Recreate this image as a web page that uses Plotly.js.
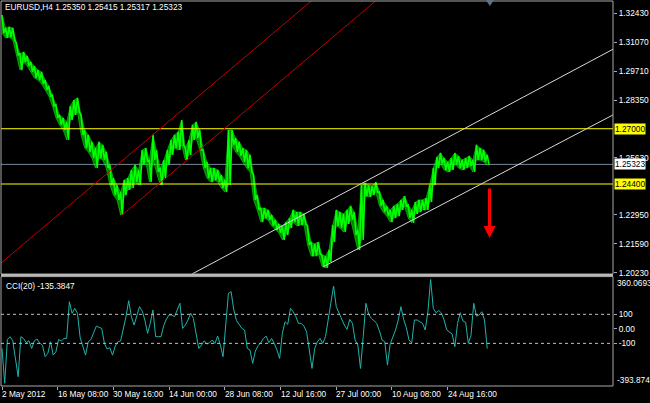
<!DOCTYPE html>
<html><head><meta charset="utf-8">
<script src="https://cdn.plot.ly/plotly-3.0.1.min.js"></script>
<style>html,body{margin:0;padding:0;background:#000;}#chart{width:650px;height:403px;}</style>
</head><body><div id="chart"></div>
<script>
// ---- data ----
const symbolTitle = "EURUSD,H4 1.25350 1.25415 1.25317 1.25323";
const cciTitle = "CCI(20) -135.3847";
const dateLabels = ["2 May 2012","16 May 08:00","30 May 16:00","14 Jun 00:00","28 Jun 08:00","12 Jul 16:00","27 Jul 00:00","10 Aug 08:00","24 Aug 16:00"];
const dateBars = [0,62,124,186,248,310,372,434,496];
const priceStep = 4;   // bars between samples
const priceHighs = [1.3235,1.3174,1.3179,1.3174,1.3103,1.3052,1.3061,1.3042,1.3014,1.2995,
 1.2976,1.2967,1.2929,1.2901,1.2859,1.2812,1.2765,1.2751,1.2732,1.2807,
 1.2835,1.2845,1.2765,1.2694,1.2671,1.2638,1.2609,1.2638,1.2624,1.2591,
 1.2530,1.2468,1.2435,1.2402,1.2459,1.2468,1.2506,1.2530,1.2506,1.2600,
 1.2609,1.2553,1.2671,1.2600,1.2515,1.2553,1.2600,1.2647,1.2671,1.2685,
 1.2741,1.2609,1.2647,1.2718,1.2732,1.2694,1.2600,1.2544,1.2515,1.2515,
 1.2506,1.2482,1.2459,1.2694,1.2694,1.2656,1.2638,1.2609,1.2600,1.2577,
 1.2482,1.2388,1.2327,1.2327,1.2318,1.2294,1.2271,1.2252,1.2243,1.2261,
 1.2280,1.2318,1.2308,1.2308,1.2299,1.2243,1.2167,1.2158,1.2167,1.2106,
 1.2101,1.2130,1.2247,1.2318,1.2308,1.2299,1.2318,1.2337,1.2308,1.2224,
 1.2435,1.2445,1.2435,1.2431,1.2449,1.2402,1.2365,1.2337,1.2318,1.2337,
 1.2346,1.2365,1.2383,1.2341,1.2318,1.2355,1.2365,1.2365,1.2374,1.2435,
 1.2515,1.2567,1.2586,1.2562,1.2544,1.2562,1.2586,1.2572,1.2553,1.2562,
 1.2572,1.2553,1.2624,1.2609,1.2600,1.2577];
const priceLows = [1.3150,1.3127,1.3131,1.3117,1.3047,1.2976,1.3014,1.2995,1.2967,1.2939,
 1.2929,1.2911,1.2882,1.2854,1.2807,1.2751,1.2718,1.2694,1.2647,1.2741,
 1.2765,1.2779,1.2671,1.2609,1.2591,1.2562,1.2515,1.2562,1.2553,1.2515,
 1.2435,1.2388,1.2365,1.2294,1.2388,1.2412,1.2421,1.2449,1.2435,1.2530,
 1.2544,1.2449,1.2553,1.2497,1.2435,1.2468,1.2530,1.2577,1.2609,1.2600,
 1.2624,1.2553,1.2577,1.2647,1.2656,1.2600,1.2515,1.2468,1.2449,1.2459,
 1.2449,1.2421,1.2402,1.2435,1.2624,1.2591,1.2572,1.2544,1.2515,1.2497,
 1.2365,1.2318,1.2261,1.2280,1.2271,1.2243,1.2224,1.2210,1.2177,1.2200,
 1.2233,1.2261,1.2243,1.2247,1.2252,1.2153,1.2101,1.2101,1.2111,1.2054,
 1.2045,1.2073,1.2167,1.2243,1.2233,1.2214,1.2252,1.2271,1.2200,1.2130,
 1.2177,1.2383,1.2379,1.2388,1.2402,1.2337,1.2308,1.2289,1.2261,1.2280,
 1.2289,1.2318,1.2337,1.2280,1.2257,1.2299,1.2308,1.2318,1.2318,1.2355,
 1.2435,1.2515,1.2534,1.2506,1.2497,1.2506,1.2534,1.2515,1.2506,1.2515,
 1.2525,1.2497,1.2553,1.2553,1.2544,1.2530];
const cciStep = 3;
const cciValues = [-135,-375,-73,-54,-82,-192,-330,-54,-66,-96,
 -82,-135,-82,-70,-98,-112,-192,-169,-89,-181,
 -158,-73,-84,-66,-66,187,107,141,107,-61,
 -123,-181,-89,-73,-27,19,10,3,-100,-139,
 -130,-181,-119,-89,-84,-8,84,194,84,26,
 95,153,123,61,-31,38,130,-54,-54,-54,
 22,68,95,95,84,125,176,3,26,61,
 107,72,-20,-135,-112,-82,-105,-96,-77,-100,
 -50,-110,-192,38,245,256,130,56,33,3,
 -8,-135,-146,-238,-153,-116,-96,-66,-50,-96,
 -66,-100,-146,-204,-31,49,31,141,118,84,
 38,38,19,-20,-146,-273,-135,-89,-66,-100,
 -54,72,164,295,153,107,72,26,-4,65,
 38,-77,-112,-273,-54,176,102,72,56,38,
 -13,-77,-89,-250,-105,-59,-8,61,153,65,
 8,-77,-96,61,61,49,38,-8,118,340,
 141,111,127,109,61,-8,-20,-36,-123,38,
 111,54,45,-100,-43,176,88,95,118,61,
 -135.3847];
const priceTickValues = [1.3243,1.3107,1.2971,1.2835,1.2563,1.2295,1.2159,1.2023];
const priceTickLabels = ["1.32430","1.31070","1.29710","1.28350","1.25630","1.22950","1.21590","1.20230"];
const cciTickValues = [100,0,-100];
const cciTickLabels = ["100","0.00","-100"];
const cciRange = [-393.874, 360.0693];
const cciRangeLabels = ["360.0693","-393.874"];
const cciLevels = [100,-100];
const yellowLevels = [1.27, 1.244];
const yellowLabels = ["1.27000","1.24400"];
const bidPrice = 1.25323;
const bidLabel = "1.25323";
const redUpper = {t:[-1.1,344.2], p:[1.2068,1.3301]};
const redLower = {t:[133.6,415.8], p:[1.2294,1.3301]};
const whiteUpper = {t:[211.7,680], p:[1.2017,1.3074]};
const whiteLower = {t:[357.3,680], p:[1.2050,1.2765]};
const arrowTime = 542.6, arrowFrom = 1.2426, arrowTo = 1.2186;
const shiftBar = 543;

// ---- layout geometry ----
const plotTop = 1, plotBottom = 386, plotH = plotBottom - plotTop;
const f = py => (plotBottom - py) / plotH;
const mainBottomPx = 274, cciTopPx = 276.6;
const FONT = {family: "Liberation Sans, Arial, sans-serif", size: 8.3, color: "#ffffff"};
const GRID = "#a8a8a8";

// price bars drawn as a high/low zig-zag (bar range strokes)
const barX = [], barY = [];
priceHighs.forEach((h, i) => {
  barX.push(i * priceStep, i * priceStep + priceStep / 2);
  barY.push(h, priceLows[i]);
});
const cciX = cciValues.map((_, i) => i * cciStep);

const traces = [
  {x: priceHighs.map((_, i) => i * priceStep), y: priceLows, type: "scatter", mode: "lines", line: {color: "#00ff00", width: 0.5}, hoverinfo: "skip"},
  {x: priceHighs.map((_, i) => i * priceStep), y: priceHighs, type: "scatter", mode: "lines", line: {color: "#00ff00", width: 0.5}, fill: "tonexty", fillcolor: "rgba(0,235,0,0.55)", hoverinfo: "skip"},
  {x: barX, y: barY, type: "scatter", mode: "lines", line: {color: "#00ff00", width: 1.6}, hoverinfo: "skip", xaxis: "x", yaxis: "y"},
  {x: cciX, y: cciValues, type: "scatter", mode: "lines", line: {color: "#20b2aa", width: 1}, hoverinfo: "skip", xaxis: "x", yaxis: "y2"}
];

const shapes = [];
yellowLevels.forEach(v => shapes.push({type: "line", xref: "paper", yref: "y", x0: 0, x1: 1, y0: v, y1: v, line: {color: "#ffff00", width: 1}, layer: "above"}));
shapes.push({type: "line", xref: "paper", yref: "y", x0: 0, x1: 1, y0: bidPrice, y1: bidPrice, line: {color: "#778899", width: 1}, layer: "below"});
[redUpper, redLower].forEach(c => shapes.push({type: "line", xref: "x", yref: "y", x0: c.t[0], x1: c.t[1], y0: c.p[0], y1: c.p[1], line: {color: "#c00000", width: 1}}));
[whiteUpper, whiteLower].forEach(c => shapes.push({type: "line", xref: "x", yref: "y", x0: c.t[0], x1: c.t[1], y0: c.p[0], y1: c.p[1], line: {color: "#d8d8d8", width: 1}}));
cciLevels.forEach(v => shapes.push({type: "line", xref: "paper", yref: "y2", x0: 0, x1: 1, y0: v, y1: v, line: {color: "#c0c0c0", width: 1, dash: "3px,3px"}}));
// frames
shapes.push({type: "rect", xref: "paper", yref: "paper", x0: 0, x1: 1, y0: f(mainBottomPx), y1: 1, line: {color: GRID, width: 1}});
shapes.push({type: "rect", xref: "paper", yref: "paper", x0: 0, x1: 1, y0: f(cciTopPx), y1: f(mainBottomPx), line: {width: 0}, fillcolor: "#b8b8b8"});
shapes.push({type: "rect", xref: "paper", yref: "paper", x0: 0, x1: 1, y0: 0, y1: f(cciTopPx), line: {color: GRID, width: 1}});
// chart-shift marker
shapes.push({type: "path", xref: "x", yref: "paper", path: `M ${shiftBar-4.5},${f(0)} L ${shiftBar+4.5},${f(0)} L ${shiftBar},${f(6)} Z`, fillcolor: "#607080", line: {width: 0}});

const annotations = [
  {xref: "paper", yref: "paper", x: 2/612, y: f(7), xanchor: "left", yanchor: "middle", text: symbolTitle, showarrow: false, font: FONT},
  {xref: "paper", yref: "paper", x: 3/612, y: f(286), xanchor: "left", yanchor: "middle", text: cciTitle, showarrow: false, font: FONT},
  {xref: "paper", yref: "paper", x: 1, xshift: 2, y: f(283), xanchor: "left", yanchor: "middle", text: cciRangeLabels[0], showarrow: false, font: FONT},
  {xref: "paper", yref: "paper", x: 1, xshift: 2, y: f(380), xanchor: "left", yanchor: "middle", text: cciRangeLabels[1], showarrow: false, font: FONT},
  {xref: "x", yref: "y", x: arrowTime, y: arrowTo, axref: "x", ayref: "y", ax: arrowTime, ay: arrowFrom, text: "", showarrow: true, arrowhead: 2, arrowsize: 0.8, arrowwidth: 3, arrowcolor: "#ff0000"}
];
dateLabels.forEach((t, i) => annotations.push({xref: "x", yref: "paper", x: dateBars[i], y: f(394), xanchor: "left", yanchor: "middle", xshift: -2, text: t, showarrow: false, font: FONT}));
yellowLevels.forEach((v, i) => annotations.push({xref: "paper", yref: "y", x: 1, xshift: 1, y: v, xanchor: "left", yanchor: "middle", text: yellowLabels[i], showarrow: false, bgcolor: "#ffff00", borderpad: 0, font: {family: FONT.family, size: FONT.size, color: "#000000"}}));
annotations.push({xref: "paper", yref: "y", x: 1, xshift: 1, y: bidPrice, xanchor: "left", yanchor: "middle", text: bidLabel, showarrow: false, bgcolor: "#ffffff", borderpad: 0, font: {family: FONT.family, size: FONT.size, color: "#000000"}});

const layout = {
  width: 650, height: 403,
  margin: {l: 1, r: 37, t: plotTop, b: 403 - plotBottom, pad: 0},
  paper_bgcolor: "#000000", plot_bgcolor: "#000000",
  showlegend: false,
  font: FONT,
  xaxis: {anchor: "y2", range: [-1.11, 680], showgrid: false, zeroline: false, showline: false,
    tickmode: "array", tickvals: dateBars, ticktext: dateLabels, showticklabels: false, ticks: "outside", ticklen: 3, tickcolor: GRID, fixedrange: true},
  yaxis: {domain: [f(mainBottomPx), 1], range: [1.20166, 1.33009], side: "right", showgrid: false, zeroline: false,
    tickmode: "array", tickvals: priceTickValues, ticktext: priceTickLabels, ticks: "outside", ticklen: 3, tickcolor: GRID, tickfont: FONT},
  yaxis2: {domain: [0, f(cciTopPx)], range: cciRange, side: "right", showgrid: false, zeroline: false,
    tickmode: "array", tickvals: cciTickValues, ticktext: cciTickLabels, ticks: "outside", ticklen: 3, tickcolor: GRID, tickfont: FONT},
  shapes: shapes,
  annotations: annotations
};

Plotly.newPlot("chart", traces, layout, {staticPlot: true, displayModeBar: false});
</script>
</body></html>
